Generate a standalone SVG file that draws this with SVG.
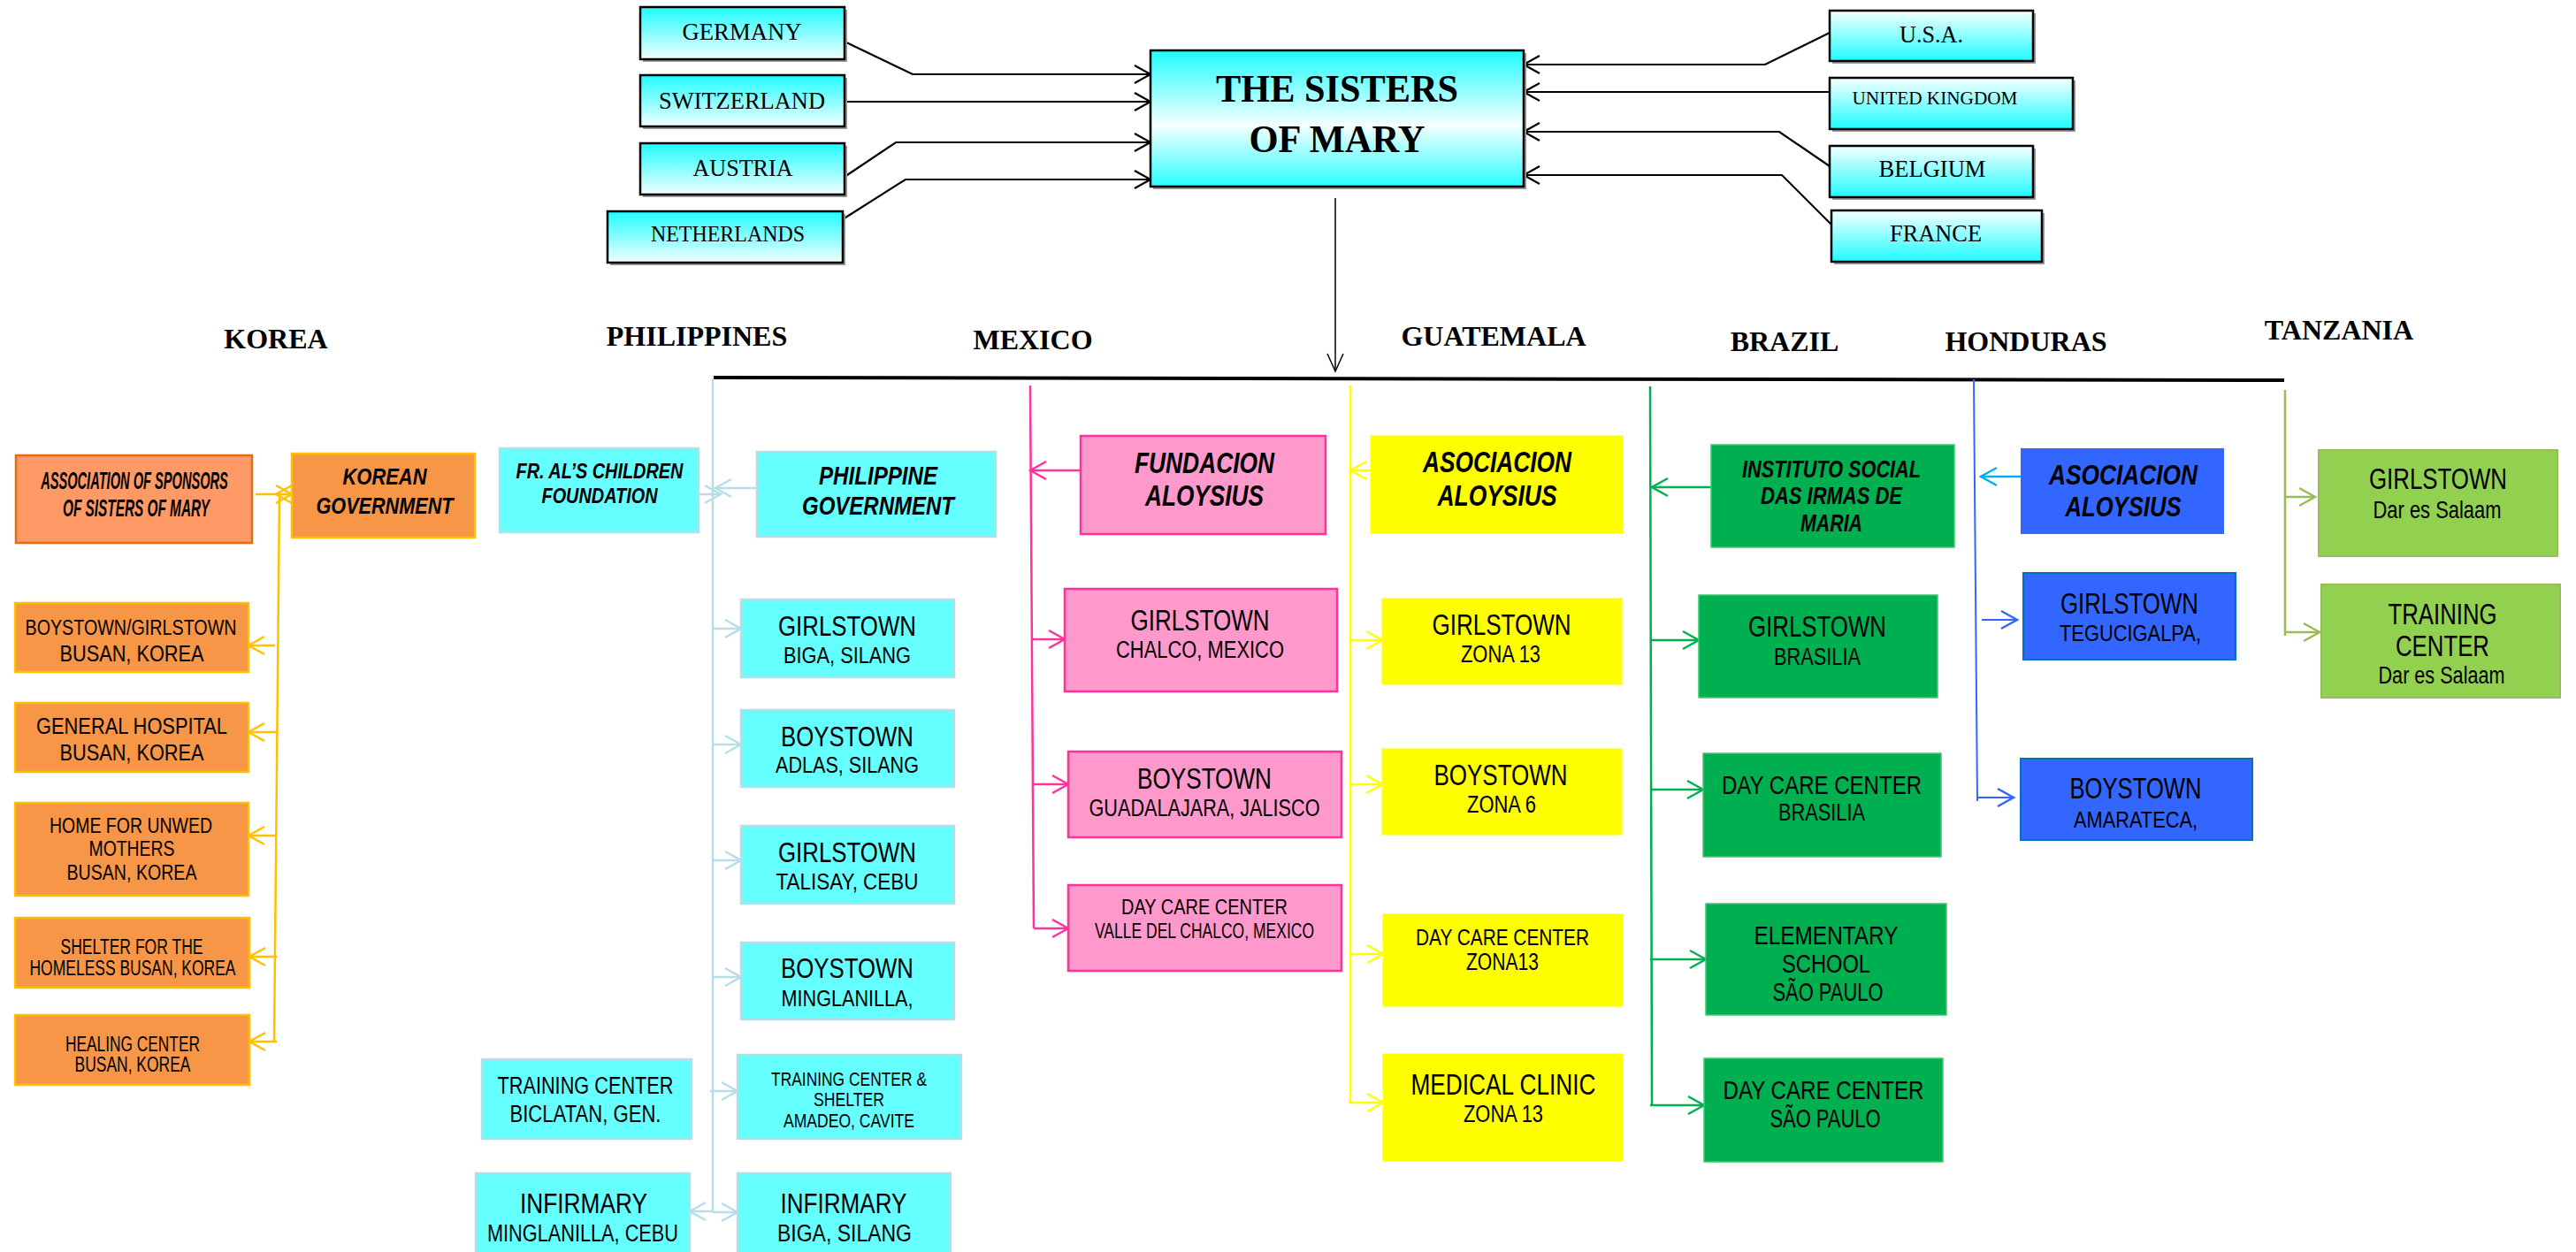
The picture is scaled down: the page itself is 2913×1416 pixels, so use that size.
<svg xmlns="http://www.w3.org/2000/svg" width="2913" height="1416" viewBox="0 0 2913 1416">
<defs>
<linearGradient id="gL" x1="0" y1="0" x2="0" y2="1"><stop offset="0" stop-color="#1ffcff"/><stop offset="1" stop-color="#f2ffff"/></linearGradient>
<linearGradient id="gR" x1="0" y1="0" x2="0" y2="1"><stop offset="0" stop-color="#f6ffff"/><stop offset="1" stop-color="#1ffcff"/></linearGradient>
<linearGradient id="gS" x1="0" y1="0" x2="0" y2="1"><stop offset="0" stop-color="#1ffcff"/><stop offset="0.55" stop-color="#f6ffff"/><stop offset="1" stop-color="#2afcff"/></linearGradient>
<marker id="aK" markerUnits="userSpaceOnUse" markerWidth="24" markerHeight="26" viewBox="-2 -3 24 26" refX="18" refY="10" orient="auto"><path d="M0,0 L18,10 L0,20" fill="none" stroke="#000" stroke-width="2.2"/></marker>
<marker id="aKs" markerUnits="userSpaceOnUse" markerWidth="24" markerHeight="26" viewBox="-2 -3 24 26" refX="20" refY="10" orient="auto"><path d="M0,1 L20,10 L0,19" fill="none" stroke="#000" stroke-width="1.5"/></marker>
<marker id="aO" markerUnits="userSpaceOnUse" markerWidth="24" markerHeight="26" viewBox="-2 -3 24 26" refX="18" refY="10" orient="auto"><path d="M0,0 L18,10 L0,20" fill="none" stroke="#ffc000" stroke-width="2.5"/></marker>
<marker id="aP" markerUnits="userSpaceOnUse" markerWidth="24" markerHeight="26" viewBox="-2 -3 24 26" refX="18" refY="10" orient="auto"><path d="M0,0 L18,10 L0,20" fill="none" stroke="#b7dde8" stroke-width="2.5"/></marker>
<marker id="aM" markerUnits="userSpaceOnUse" markerWidth="24" markerHeight="26" viewBox="-2 -3 24 26" refX="18" refY="10" orient="auto"><path d="M0,0 L18,10 L0,20" fill="none" stroke="#ff3399" stroke-width="2.5"/></marker>
<marker id="aY" markerUnits="userSpaceOnUse" markerWidth="24" markerHeight="26" viewBox="-2 -3 24 26" refX="18" refY="10" orient="auto"><path d="M0,0 L18,10 L0,20" fill="none" stroke="#ffff00" stroke-width="2.5"/></marker>
<marker id="aG" markerUnits="userSpaceOnUse" markerWidth="24" markerHeight="26" viewBox="-2 -3 24 26" refX="18" refY="10" orient="auto"><path d="M0,0 L18,10 L0,20" fill="none" stroke="#00b050" stroke-width="2.5"/></marker>
<marker id="aB" markerUnits="userSpaceOnUse" markerWidth="24" markerHeight="26" viewBox="-2 -3 24 26" refX="18" refY="10" orient="auto"><path d="M0,0 L18,10 L0,20" fill="none" stroke="#3366ff" stroke-width="2.5"/></marker>
<marker id="aC" markerUnits="userSpaceOnUse" markerWidth="24" markerHeight="26" viewBox="-2 -3 24 26" refX="18" refY="10" orient="auto"><path d="M0,0 L18,10 L0,20" fill="none" stroke="#00b0f0" stroke-width="2.5"/></marker>
<marker id="aT" markerUnits="userSpaceOnUse" markerWidth="24" markerHeight="26" viewBox="-2 -3 24 26" refX="18" refY="10" orient="auto"><path d="M0,0 L18,10 L0,20" fill="none" stroke="#9bbb59" stroke-width="2.5"/></marker>
</defs>
<style>
.top rect.b{stroke:#000;stroke-width:2.5}
.top rect.sh{fill:#9a9a9a}
.ser{font-family:"Liberation Serif","Times New Roman",serif;fill:#000}
.lab{font-family:"Liberation Serif","Times New Roman",serif;font-weight:bold;font-size:32px;fill:#000}
.sans{font-family:"Liberation Sans",Arial,sans-serif;fill:#000}
.bi{font-weight:bold;font-style:italic}
text{text-anchor:middle}
.kor{fill:#f79646;stroke:#ffc000;stroke-width:2.5}
.phl{fill:#66ffff;stroke:#b7dde8;stroke-width:2.5}
.mex{fill:#ff99cc;stroke:#ff3399;stroke-width:2.5}
.gua{fill:#ffff00;stroke:#ffff00;stroke-width:1}
.bra{fill:#00b050;stroke:#3fc873;stroke-width:1.5}
.hon{fill:#3366ff;stroke:#0070c0;stroke-width:2}
.tan{fill:#92d050;stroke:#9bbb59;stroke-width:2}
#connectors path{fill:none}
</style>
<rect x="0" y="0" width="2913" height="1416" fill="#fff"/>

<g id="connectors">
<g stroke="#000" stroke-width="2.2">
<path d="M955,47 L1032,84 L1301,84" marker-end="url(#aK)"/>
<path d="M955,115 L1301,115" marker-end="url(#aK)"/>
<path d="M955,200 L1013,161 L1301,161" marker-end="url(#aK)"/>
<path d="M953,248 L1024,203 L1301,203" marker-end="url(#aK)"/>
<path d="M2069,37 L1996,73 L1723,73" marker-end="url(#aK)"/>
<path d="M2069,104 L1723,104" marker-end="url(#aK)"/>
<path d="M2069,188 L2012,149 L1723,149" marker-end="url(#aK)"/>
<path d="M2071,254 L2015,198 L1723,198" marker-end="url(#aK)"/>
</g>
<path d="M1510,224 L1510,420" stroke="#000" stroke-width="1.5" marker-end="url(#aKs)"/>
<path d="M807,427 L2583,430" stroke="#000" stroke-width="4"/>
<g stroke="#ffc000" stroke-width="2.5">
<path d="M316,559 L310,1178"/>
<path d="M289,559 L330,559" marker-end="url(#aO)"/>
<path d="M330,559 L312,559" marker-end="url(#aO)"/>
<path d="M311,730 L281,730" marker-end="url(#aO)"/>
<path d="M313,828 L281,828" marker-end="url(#aO)"/>
<path d="M313,945 L281,945" marker-end="url(#aO)"/>
<path d="M313,1082 L282,1082" marker-end="url(#aO)"/>
<path d="M313,1178 L282,1178" marker-end="url(#aO)"/>
</g>
<g stroke="#b7dde8" stroke-width="2.5">
<path d="M806,428 L806,1370"/>
<path d="M790,559 L815,559" marker-end="url(#aP)"/>
<path d="M856,552 L809,552" marker-end="url(#aP)"/>
<path d="M806,711 L838,711" marker-end="url(#aP)"/>
<path d="M806,842 L838,842" marker-end="url(#aP)"/>
<path d="M806,973 L838,973" marker-end="url(#aP)"/>
<path d="M806,1105 L838,1105" marker-end="url(#aP)"/>
<path d="M803,1234 L834,1234" marker-end="url(#aP)"/>
<path d="M806,1370 L780,1370" marker-end="url(#aP)"/>
<path d="M806,1371 L834,1371" marker-end="url(#aP)"/>
</g>
<g stroke="#ff3399" stroke-width="2.5">
<path d="M1165,436 L1169,1050"/>
<path d="M1222,532 L1165,532" marker-end="url(#aM)"/>
<path d="M1166,723 L1204,723" marker-end="url(#aM)"/>
<path d="M1167,887 L1208,887" marker-end="url(#aM)"/>
<path d="M1169,1050 L1208,1050" marker-end="url(#aM)"/>
</g>
<g stroke="#ffff00" stroke-width="2.5">
<path d="M1527,436 L1527,1248"/>
<path d="M1550,532 L1527,532" marker-end="url(#aY)"/>
<path d="M1527,724 L1563,724" marker-end="url(#aY)"/>
<path d="M1527,887 L1563,887" marker-end="url(#aY)"/>
<path d="M1527,1079 L1564,1079" marker-end="url(#aY)"/>
<path d="M1525,1247 L1564,1247" marker-end="url(#aY)"/>
</g>
<g stroke="#00b050" stroke-width="2.5">
<path d="M1866,437 L1868,1250"/>
<path d="M1935,551 L1868,551" marker-end="url(#aG)"/>
<path d="M1867,724 L1921,724" marker-end="url(#aG)"/>
<path d="M1867,893 L1926,893" marker-end="url(#aG)"/>
<path d="M1866,1085 L1929,1085" marker-end="url(#aG)"/>
<path d="M1866,1250 L1927,1250" marker-end="url(#aG)"/>
</g>
<g stroke="#3366ff" stroke-width="2">
<path d="M2232,429 L2236,906"/>
<path d="M2241,701 L2281,701" marker-end="url(#aB)"/>
<path d="M2236,902 L2277,902" marker-end="url(#aB)"/>
</g>
<path d="M2290,539 L2240,539" stroke="#00b0f0" stroke-width="2.5" marker-end="url(#aC)"/>
<g stroke="#9bbb59" stroke-width="2.5">
<path d="M2584,441 L2584,719"/>
<path d="M2584,562 L2618,562" marker-end="url(#aT)"/>
<path d="M2584,715 L2623,715" marker-end="url(#aT)"/>
</g>
</g>

<g class="top">
<g id="germany"><rect class="sh" x="727" y="11" width="231" height="59"/><rect class="b" x="724" y="8" width="231" height="59" fill="url(#gL)"/><text class="ser" x="839" y="45" font-size="28" textLength="135" lengthAdjust="spacingAndGlyphs">GERMANY</text></g>
<g id="switzerland"><rect class="sh" x="727" y="88" width="231" height="58"/><rect class="b" x="724" y="85" width="231" height="58" fill="url(#gL)"/><text class="ser" x="839" y="123" font-size="28" textLength="188" lengthAdjust="spacingAndGlyphs">SWITZERLAND</text></g>
<g id="austria"><rect class="sh" x="727" y="165" width="231" height="58"/><rect class="b" x="724" y="162" width="231" height="58" fill="url(#gL)"/><text class="ser" x="840" y="199" font-size="28" textLength="113" lengthAdjust="spacingAndGlyphs">AUSTRIA</text></g>
<g id="netherlands"><rect class="sh" x="690" y="242" width="266" height="58"/><rect class="b" x="687" y="239" width="266" height="58" fill="url(#gL)"/><text class="ser" x="823" y="273" font-size="26" textLength="174" lengthAdjust="spacingAndGlyphs">NETHERLANDS</text></g>
<g id="sisters"><rect class="sh" x="1304" y="60" width="422" height="154"/><rect class="b" x="1301" y="57" width="422" height="154" fill="url(#gS)"/><text class="ser" x="1512" y="115" font-size="44" font-weight="bold" textLength="274" lengthAdjust="spacingAndGlyphs">THE SISTERS</text><text class="ser" x="1512" y="172" font-size="44" font-weight="bold" textLength="199" lengthAdjust="spacingAndGlyphs">OF MARY</text></g>
<g id="usa"><rect class="sh" x="2072" y="15" width="230" height="57"/><rect class="b" x="2069" y="12" width="230" height="57" fill="url(#gR)"/><text class="ser" x="2184" y="48" font-size="27" textLength="72" lengthAdjust="spacingAndGlyphs">U.S.A.</text></g>
<g id="uk"><rect class="sh" x="2072" y="91" width="275" height="58"/><rect class="b" x="2069" y="88" width="275" height="58" fill="url(#gR)"/><text class="ser" x="2188" y="118" font-size="21" textLength="187" lengthAdjust="spacingAndGlyphs">UNITED KINGDOM</text></g>
<g id="belgium"><rect class="sh" x="2072" y="168" width="230" height="58"/><rect class="b" x="2069" y="165" width="230" height="58" fill="url(#gR)"/><text class="ser" x="2185" y="200" font-size="27" textLength="121" lengthAdjust="spacingAndGlyphs">BELGIUM</text></g>
<g id="france"><rect class="sh" x="2074" y="241" width="238" height="58"/><rect class="b" x="2071" y="238" width="238" height="58" fill="url(#gR)"/><text class="ser" x="2189" y="273" font-size="27" textLength="104" lengthAdjust="spacingAndGlyphs">FRANCE</text></g>
</g>

<g id="labels">
<text class="lab" x="312" y="394">KOREA</text>
<text class="lab" x="788" y="391">PHILIPPINES</text>
<text class="lab" x="1168" y="395">MEXICO</text>
<text class="lab" x="1689" y="391">GUATEMALA</text>
<text class="lab" x="2018" y="397">BRAZIL</text>
<text class="lab" x="2291" y="397">HONDURAS</text>
<text class="lab" x="2645" y="384">TANZANIA</text>
</g>

<g id="korea" class="sans">
<g id="k-assoc"><rect x="18" y="515" width="267" height="99" fill="#ff9966" stroke="#e46c0a" stroke-width="2.5"/>
<g transform="translate(152,0) scale(0.55,1)"><text class="sans bi" x="0" y="553" font-size="27" textLength="385" lengthAdjust="spacingAndGlyphs">ASSOCIATION OF SPONSORS</text></g>
<g transform="translate(154,0) scale(0.55,1)"><text class="sans bi" x="0" y="584" font-size="27" textLength="302" lengthAdjust="spacingAndGlyphs">OF SISTERS OF MARY</text></g></g>
<g id="k-gov"><rect class="kor" x="330" y="513" width="207" height="95"/><text class="sans bi" x="435" y="548" font-size="25" textLength="95" lengthAdjust="spacingAndGlyphs">KOREAN</text><text class="sans bi" x="435" y="581" font-size="25" textLength="155" lengthAdjust="spacingAndGlyphs">GOVERNMENT</text></g>
<g id="k-town"><rect class="kor" x="17" y="682" width="264" height="78"/><text class="sans" x="148" y="718" font-size="23" textLength="239" lengthAdjust="spacingAndGlyphs">BOYSTOWN/GIRLSTOWN</text><text class="sans" x="149" y="748" font-size="26" textLength="163" lengthAdjust="spacingAndGlyphs">BUSAN, KOREA</text></g>
<g id="k-hosp"><rect class="kor" x="17" y="795" width="264" height="78"/><text class="sans" x="149" y="830" font-size="26" textLength="216" lengthAdjust="spacingAndGlyphs">GENERAL HOSPITAL</text><text class="sans" x="149" y="860" font-size="26" textLength="163" lengthAdjust="spacingAndGlyphs">BUSAN, KOREA</text></g>
<g id="k-home"><rect class="kor" x="17" y="908" width="264" height="105"/><text class="sans" x="148" y="942" font-size="24" textLength="184" lengthAdjust="spacingAndGlyphs">HOME FOR UNWED</text><text class="sans" x="149" y="968" font-size="24" textLength="97" lengthAdjust="spacingAndGlyphs">MOTHERS</text><text class="sans" x="149" y="995" font-size="24" textLength="147" lengthAdjust="spacingAndGlyphs">BUSAN, KOREA</text></g>
<g id="k-shelter"><rect class="kor" x="17" y="1038" width="265" height="79"/><text class="sans" x="149" y="1079" font-size="23" textLength="161" lengthAdjust="spacingAndGlyphs">SHELTER FOR THE</text><text class="sans" x="150" y="1103" font-size="23" textLength="233" lengthAdjust="spacingAndGlyphs">HOMELESS BUSAN, KOREA</text></g>
<g id="k-heal"><rect class="kor" x="17" y="1148" width="265" height="79"/><text class="sans" x="150" y="1189" font-size="23" textLength="152" lengthAdjust="spacingAndGlyphs">HEALING CENTER</text><text class="sans" x="150" y="1212" font-size="23" textLength="131" lengthAdjust="spacingAndGlyphs">BUSAN, KOREA</text></g>
</g>

<g id="philippines">
<g id="p-fral"><rect class="phl" x="565" y="507" width="225" height="95"/><text class="sans bi" x="678" y="541" font-size="23" textLength="189" lengthAdjust="spacingAndGlyphs">FR. AL’S CHILDREN</text><text class="sans bi" x="678" y="569" font-size="23" textLength="131" lengthAdjust="spacingAndGlyphs">FOUNDATION</text></g>
<g id="p-gov"><rect class="phl" x="856" y="511" width="270" height="96"/><text class="sans bi" x="993" y="548" font-size="30" textLength="134" lengthAdjust="spacingAndGlyphs">PHILIPPINE</text><text class="sans bi" x="993" y="582" font-size="30" textLength="172" lengthAdjust="spacingAndGlyphs">GOVERNMENT</text></g>
<g id="p-g1"><rect class="phl" x="838" y="678" width="241" height="88"/><text class="sans" x="958" y="719" font-size="32" textLength="156" lengthAdjust="spacingAndGlyphs">GIRLSTOWN</text><text class="sans" x="958" y="750" font-size="26" textLength="144" lengthAdjust="spacingAndGlyphs">BIGA, SILANG</text></g>
<g id="p-b1"><rect class="phl" x="838" y="803" width="241" height="87"/><text class="sans" x="958" y="844" font-size="32" textLength="150" lengthAdjust="spacingAndGlyphs">BOYSTOWN</text><text class="sans" x="958" y="874" font-size="26" textLength="162" lengthAdjust="spacingAndGlyphs">ADLAS, SILANG</text></g>
<g id="p-g2"><rect class="phl" x="838" y="934" width="241" height="88"/><text class="sans" x="958" y="975" font-size="32" textLength="156" lengthAdjust="spacingAndGlyphs">GIRLSTOWN</text><text class="sans" x="958" y="1006" font-size="26" textLength="161" lengthAdjust="spacingAndGlyphs">TALISAY, CEBU</text></g>
<g id="p-b2"><rect class="phl" x="838" y="1066" width="241" height="87"/><text class="sans" x="958" y="1106" font-size="32" textLength="150" lengthAdjust="spacingAndGlyphs">BOYSTOWN</text><text class="sans" x="958" y="1138" font-size="26" textLength="149" lengthAdjust="spacingAndGlyphs">MINGLANILLA,</text></g>
<g id="p-tcs"><rect class="phl" x="834" y="1193" width="253" height="95"/><text class="sans" x="960" y="1228" font-size="22" textLength="176" lengthAdjust="spacingAndGlyphs">TRAINING CENTER &amp;</text><text class="sans" x="960" y="1251" font-size="22" textLength="80" lengthAdjust="spacingAndGlyphs">SHELTER</text><text class="sans" x="960" y="1275" font-size="22" textLength="148" lengthAdjust="spacingAndGlyphs">AMADEO, CAVITE</text></g>
<g id="p-tcb"><rect class="phl" x="545" y="1198" width="237" height="90"/><text class="sans" x="662" y="1237" font-size="27" textLength="199" lengthAdjust="spacingAndGlyphs">TRAINING CENTER</text><text class="sans" x="662" y="1269" font-size="27" textLength="171" lengthAdjust="spacingAndGlyphs">BICLATAN, GEN.</text></g>
<g id="p-i1"><rect class="phl" x="538" y="1327" width="242" height="100"/><text class="sans" x="660" y="1372" font-size="32" textLength="144" lengthAdjust="spacingAndGlyphs">INFIRMARY</text><text class="sans" x="659" y="1404" font-size="27" textLength="216" lengthAdjust="spacingAndGlyphs">MINGLANILLA, CEBU</text></g>
<g id="p-i2"><rect class="phl" x="834" y="1327" width="241" height="100"/><text class="sans" x="954" y="1372" font-size="32" textLength="143" lengthAdjust="spacingAndGlyphs">INFIRMARY</text><text class="sans" x="955" y="1404" font-size="27" textLength="152" lengthAdjust="spacingAndGlyphs">BIGA, SILANG</text></g>
</g>

<g id="mexico">
<g id="m-fund"><rect class="mex" x="1222" y="493" width="277" height="111"/><text class="sans bi" x="1362" y="535" font-size="34" textLength="158" lengthAdjust="spacingAndGlyphs">FUNDACION</text><text class="sans bi" x="1362" y="572" font-size="34" textLength="134" lengthAdjust="spacingAndGlyphs">ALOYSIUS</text></g>
<g id="m-girl"><rect class="mex" x="1204" y="666" width="308" height="116"/><text class="sans" x="1357" y="713" font-size="33" textLength="157" lengthAdjust="spacingAndGlyphs">GIRLSTOWN</text><text class="sans" x="1357" y="744" font-size="27" textLength="190" lengthAdjust="spacingAndGlyphs">CHALCO, MEXICO</text></g>
<g id="m-boy"><rect class="mex" x="1208" y="850" width="309" height="97"/><text class="sans" x="1362" y="892" font-size="33" textLength="152" lengthAdjust="spacingAndGlyphs">BOYSTOWN</text><text class="sans" x="1362" y="923" font-size="27" textLength="261" lengthAdjust="spacingAndGlyphs">GUADALAJARA, JALISCO</text></g>
<g id="m-day"><rect class="mex" x="1208" y="1001" width="309" height="97"/><text class="sans" x="1362" y="1034" font-size="24" textLength="188" lengthAdjust="spacingAndGlyphs">DAY CARE CENTER</text><text class="sans" x="1362" y="1061" font-size="23" textLength="248" lengthAdjust="spacingAndGlyphs">VALLE DEL CHALCO, MEXICO</text></g>
</g>

<g id="guatemala">
<g id="g-asoc"><rect class="gua" x="1550" y="493" width="285" height="110"/><text class="sans bi" x="1693" y="534" font-size="33" textLength="168" lengthAdjust="spacingAndGlyphs">ASOCIACION</text><text class="sans bi" x="1693" y="572" font-size="33" textLength="135" lengthAdjust="spacingAndGlyphs">ALOYSIUS</text></g>
<g id="g-girl"><rect class="gua" x="1563" y="677" width="271" height="97"/><text class="sans" x="1698" y="718" font-size="33" textLength="157" lengthAdjust="spacingAndGlyphs">GIRLSTOWN</text><text class="sans" x="1697" y="749" font-size="27" textLength="90" lengthAdjust="spacingAndGlyphs">ZONA 13</text></g>
<g id="g-boy"><rect class="gua" x="1563" y="847" width="271" height="97"/><text class="sans" x="1697" y="888" font-size="33" textLength="151" lengthAdjust="spacingAndGlyphs">BOYSTOWN</text><text class="sans" x="1698" y="919" font-size="27" textLength="78" lengthAdjust="spacingAndGlyphs">ZONA 6</text></g>
<g id="g-day"><rect class="gua" x="1564" y="1034" width="271" height="104"/><text class="sans" x="1699" y="1069" font-size="25" textLength="196" lengthAdjust="spacingAndGlyphs">DAY CARE CENTER</text><text class="sans" x="1699" y="1097" font-size="27" textLength="82" lengthAdjust="spacingAndGlyphs">ZONA13</text></g>
<g id="g-med"><rect class="gua" x="1564" y="1192" width="271" height="121"/><text class="sans" x="1700" y="1238" font-size="33" textLength="209" lengthAdjust="spacingAndGlyphs">MEDICAL CLINIC</text><text class="sans" x="1700" y="1269" font-size="27" textLength="90" lengthAdjust="spacingAndGlyphs">ZONA 13</text></g>
</g>

<g id="brazil">
<g id="b-inst"><rect class="bra" x="1935" y="503" width="275" height="116"/><text class="sans bi" x="2071" y="540" font-size="28" textLength="202" lengthAdjust="spacingAndGlyphs">INSTITUTO SOCIAL</text><text class="sans bi" x="2071" y="570" font-size="28" textLength="160" lengthAdjust="spacingAndGlyphs">DAS IRMAS DE</text><text class="sans bi" x="2071" y="601" font-size="28" textLength="70" lengthAdjust="spacingAndGlyphs">MARIA</text></g>
<g id="b-girl"><rect class="bra" x="1921" y="673" width="270" height="116"/><text class="sans" x="2055" y="720" font-size="33" textLength="156" lengthAdjust="spacingAndGlyphs">GIRLSTOWN</text><text class="sans" x="2055" y="752" font-size="28" textLength="98" lengthAdjust="spacingAndGlyphs">BRASILIA</text></g>
<g id="b-day"><rect class="bra" x="1926" y="852" width="269" height="117"/><text class="sans" x="2060" y="898" font-size="30" textLength="226" lengthAdjust="spacingAndGlyphs">DAY CARE CENTER</text><text class="sans" x="2060" y="928" font-size="27" textLength="98" lengthAdjust="spacingAndGlyphs">BRASILIA</text></g>
<g id="b-elem"><rect class="bra" x="1929" y="1022" width="272" height="126"/><text class="sans" x="2065" y="1068" font-size="30" textLength="163" lengthAdjust="spacingAndGlyphs">ELEMENTARY</text><text class="sans" x="2065" y="1100" font-size="30" textLength="100" lengthAdjust="spacingAndGlyphs">SCHOOL</text><text class="sans" x="2067" y="1132" font-size="30" textLength="125" lengthAdjust="spacingAndGlyphs">SÃO PAULO</text></g>
<g id="b-sp"><rect class="bra" x="1927" y="1197" width="270" height="117"/><text class="sans" x="2062" y="1243" font-size="29" textLength="227" lengthAdjust="spacingAndGlyphs">DAY CARE CENTER</text><text class="sans" x="2064" y="1275" font-size="29" textLength="125" lengthAdjust="spacingAndGlyphs">SÃO PAULO</text></g>
</g>

<g id="honduras">
<g id="h-asoc"><rect x="2285" y="507" width="230" height="97" fill="#3366ff"/><text class="sans bi" x="2401" y="548" font-size="32" textLength="168" lengthAdjust="spacingAndGlyphs">ASOCIACION</text><text class="sans bi" x="2401" y="584" font-size="32" textLength="131" lengthAdjust="spacingAndGlyphs">ALOYSIUS</text></g>
<g id="h-girl"><rect class="hon" x="2288" y="648" width="240" height="98"/><text class="sans" x="2408" y="694" font-size="33" textLength="156" lengthAdjust="spacingAndGlyphs">GIRLSTOWN</text><text class="sans" x="2409" y="725" font-size="26" textLength="160" lengthAdjust="spacingAndGlyphs">TEGUCIGALPA,</text></g>
<g id="h-boy"><rect class="hon" x="2285" y="858" width="262" height="92"/><text class="sans" x="2415" y="903" font-size="33" textLength="149" lengthAdjust="spacingAndGlyphs">BOYSTOWN</text><text class="sans" x="2415" y="936" font-size="26" textLength="140" lengthAdjust="spacingAndGlyphs">AMARATECA,</text></g>
</g>

<g id="tanzania">
<g id="t-girl"><rect class="tan" x="2622" y="509" width="270" height="120"/><text class="sans" x="2757" y="553" font-size="33" textLength="156" lengthAdjust="spacingAndGlyphs">GIRLSTOWN</text><text class="sans" x="2756" y="586" font-size="27" textLength="145" lengthAdjust="spacingAndGlyphs">Dar es Salaam</text></g>
<g id="t-train"><rect class="tan" x="2625" y="661" width="270" height="128"/><text class="sans" x="2762" y="706" font-size="33" textLength="123" lengthAdjust="spacingAndGlyphs">TRAINING</text><text class="sans" x="2762" y="742" font-size="33" textLength="106" lengthAdjust="spacingAndGlyphs">CENTER</text><text class="sans" x="2761" y="773" font-size="27" textLength="143" lengthAdjust="spacingAndGlyphs">Dar es Salaam</text></g>
</g>
</svg>
